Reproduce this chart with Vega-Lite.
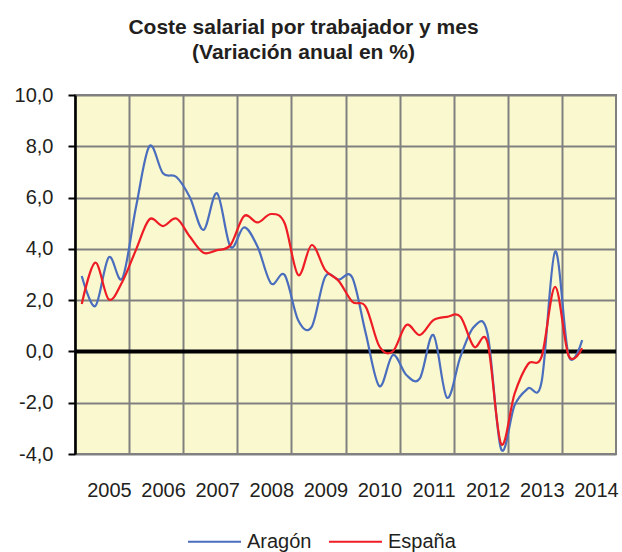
{
  "$schema": "https://vega.github.io/schema/vega-lite/v6.json",
  "width": 541,
  "height": 359,
  "autosize": {"type": "none"},
  "padding": {"left": 75, "top": 95, "right": 6, "bottom": 98},
  "background": "white",
  "title": {
    "text": ["Coste salarial por trabajador y mes", "(Variación anual en %)"],
    "font": "Liberation Sans",
    "fontSize": 21,
    "fontWeight": "bold",
    "color": "#231f20",
    "anchor": "middle",
    "frame": "group",
    "dx": -42,
    "offset": 22,
    "lineHeight": 25
  },
  "config": {
    "font": "Liberation Sans",
    "view": {"fill": "#faf8cf", "stroke": "#808080", "strokeWidth": 2}
  },
  "layer": [
    {
      "data": {"values": [{"v": 0}]},
      "mark": {"type": "rule", "color": "black", "strokeWidth": 4},
      "encoding": {
        "y": {"field": "v", "type": "quantitative", "title": null}
      }
    },
    {
      "data": {
        "values": [
          {"t": 2005.125, "serie": "Aragón", "v": 2.94},
          {"t": 2005.375, "serie": "Aragón", "v": 1.77},
          {"t": 2005.625, "serie": "Aragón", "v": 3.67},
          {"t": 2005.875, "serie": "Aragón", "v": 2.85},
          {"t": 2006.125, "serie": "Aragón", "v": 5.6},
          {"t": 2006.375, "serie": "Aragón", "v": 8.0},
          {"t": 2006.625, "serie": "Aragón", "v": 6.95},
          {"t": 2006.875, "serie": "Aragón", "v": 6.8},
          {"t": 2007.125, "serie": "Aragón", "v": 6.0},
          {"t": 2007.375, "serie": "Aragón", "v": 4.74},
          {"t": 2007.625, "serie": "Aragón", "v": 6.17},
          {"t": 2007.875, "serie": "Aragón", "v": 4.08},
          {"t": 2008.125, "serie": "Aragón", "v": 4.84},
          {"t": 2008.375, "serie": "Aragón", "v": 4.08},
          {"t": 2008.625, "serie": "Aragón", "v": 2.65},
          {"t": 2008.875, "serie": "Aragón", "v": 2.98},
          {"t": 2009.125, "serie": "Aragón", "v": 1.22},
          {"t": 2009.375, "serie": "Aragón", "v": 0.96},
          {"t": 2009.625, "serie": "Aragón", "v": 2.91},
          {"t": 2009.875, "serie": "Aragón", "v": 2.8},
          {"t": 2010.125, "serie": "Aragón", "v": 2.88},
          {"t": 2010.375, "serie": "Aragón", "v": 0.7},
          {"t": 2010.625, "serie": "Aragón", "v": -1.35},
          {"t": 2010.875, "serie": "Aragón", "v": -0.14},
          {"t": 2011.125, "serie": "Aragón", "v": -0.92},
          {"t": 2011.375, "serie": "Aragón", "v": -1.05},
          {"t": 2011.625, "serie": "Aragón", "v": 0.64},
          {"t": 2011.875, "serie": "Aragón", "v": -1.8},
          {"t": 2012.125, "serie": "Aragón", "v": -0.2},
          {"t": 2012.375, "serie": "Aragón", "v": 0.96},
          {"t": 2012.625, "serie": "Aragón", "v": 0.7},
          {"t": 2012.875, "serie": "Aragón", "v": -3.8},
          {"t": 2013.125, "serie": "Aragón", "v": -2.1},
          {"t": 2013.375, "serie": "Aragón", "v": -1.44},
          {"t": 2013.625, "serie": "Aragón", "v": -1.18},
          {"t": 2013.875, "serie": "Aragón", "v": 3.9},
          {"t": 2014.125, "serie": "Aragón", "v": -0.17},
          {"t": 2014.375, "serie": "Aragón", "v": 0.44},
          {"t": 2005.125, "serie": "España", "v": 1.85},
          {"t": 2005.375, "serie": "España", "v": 3.46},
          {"t": 2005.625, "serie": "España", "v": 2.03},
          {"t": 2005.875, "serie": "España", "v": 2.72},
          {"t": 2006.125, "serie": "España", "v": 3.95},
          {"t": 2006.375, "serie": "España", "v": 5.15},
          {"t": 2006.625, "serie": "España", "v": 4.89},
          {"t": 2006.875, "serie": "España", "v": 5.18},
          {"t": 2007.125, "serie": "España", "v": 4.47},
          {"t": 2007.375, "serie": "España", "v": 3.85},
          {"t": 2007.625, "serie": "España", "v": 3.95},
          {"t": 2007.875, "serie": "España", "v": 4.15},
          {"t": 2008.125, "serie": "España", "v": 5.28},
          {"t": 2008.375, "serie": "España", "v": 5.03},
          {"t": 2008.625, "serie": "España", "v": 5.36},
          {"t": 2008.875, "serie": "España", "v": 5.0},
          {"t": 2009.125, "serie": "España", "v": 2.98},
          {"t": 2009.375, "serie": "España", "v": 4.15},
          {"t": 2009.625, "serie": "España", "v": 3.17},
          {"t": 2009.875, "serie": "España", "v": 2.75},
          {"t": 2010.125, "serie": "España", "v": 1.94},
          {"t": 2010.375, "serie": "España", "v": 1.74},
          {"t": 2010.625, "serie": "España", "v": 0.2},
          {"t": 2010.875, "serie": "España", "v": 0.0},
          {"t": 2011.125, "serie": "España", "v": 1.03},
          {"t": 2011.375, "serie": "España", "v": 0.64},
          {"t": 2011.625, "serie": "España", "v": 1.22},
          {"t": 2011.875, "serie": "España", "v": 1.35},
          {"t": 2012.125, "serie": "España", "v": 1.35},
          {"t": 2012.375, "serie": "España", "v": 0.18},
          {"t": 2012.625, "serie": "España", "v": 0.35},
          {"t": 2012.875, "serie": "España", "v": -3.6},
          {"t": 2013.125, "serie": "España", "v": -1.65},
          {"t": 2013.375, "serie": "España", "v": -0.49},
          {"t": 2013.625, "serie": "España", "v": -0.2},
          {"t": 2013.875, "serie": "España", "v": 2.52},
          {"t": 2014.125, "serie": "España", "v": -0.17},
          {"t": 2014.375, "serie": "España", "v": 0.12}
        ]
      },
      "mark": {"type": "line", "interpolate": "cardinal", "strokeWidth": 2.2},
      "encoding": {
        "x": {
          "field": "t",
          "type": "quantitative",
          "title": null,
          "scale": {"domain": [2005, 2015], "nice": false, "zero": false},
          "axis": {
            "values": [2005, 2006, 2007, 2008, 2009, 2010, 2011, 2012, 2013, 2014],
            "format": "d",
            "grid": true,
            "gridColor": "#808080",
            "gridWidth": 2,
            "gridOpacity": 1,
            "ticks": false,
            "domain": false,
            "labelFontSize": 20,
            "labelColor": "#231f20",
            "labelAlign": "center",
            "labelOffset": 34,
            "labelPadding": 26,
            "labelFlush": false,
            "labelOverlap": false
          }
        },
        "y": {
          "field": "v",
          "type": "quantitative",
          "title": null,
          "scale": {"domain": [-4, 10], "nice": false, "zero": false},
          "axis": {
            "values": [-4, -2, 0, 2, 4, 6, 8, 10],
            "labelExpr": "replace(replace(format(datum.value, '.1f'), '.', ','), '\u2212', '-')",
            "grid": true,
            "gridColor": "#808080",
            "gridWidth": 2,
            "gridOpacity": 1,
            "domainColor": "black",
            "domainWidth": 2.5,
            "tickColor": "black",
            "tickWidth": 2,
            "tickSize": 7,
            "labelFontSize": 20,
            "labelColor": "#231f20",
            "labelPadding": 15,
            "labelFlush": false,
            "labelOverlap": false
          }
        },
        "color": {
          "field": "serie",
          "type": "nominal",
          "scale": {"domain": ["Aragón", "España"], "range": ["#4a6ebd", "#ee1c24"]},
          "legend": {
            "title": null,
            "orient": "none",
            "legendX": 112,
            "legendY": 419,
            "direction": "horizontal",
            "symbolType": "stroke",
            "symbolSize": 2809,
            "symbolStrokeWidth": 2,
            "labelFontSize": 20,
            "labelColor": "#231f20",
            "labelOffset": 5,
            "columnPadding": 13
          }
        }
      }
    }
  ]
}
